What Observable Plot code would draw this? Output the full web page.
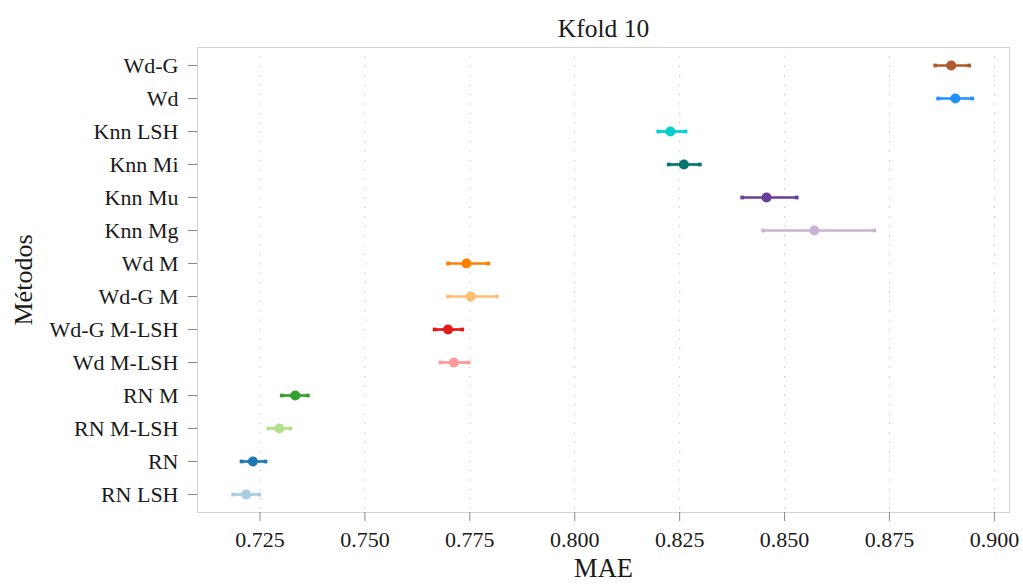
<!DOCTYPE html>
<html>
<head>
<meta charset="utf-8">
<script src="https://cdn.jsdelivr.net/npm/d3@7"></script>
<script src="https://cdn.jsdelivr.net/npm/@observablehq/plot@0.6"></script>
<style>
  body { margin: 0; background: #fff; }
  svg { display: block; }
</style>
</head>
<body>
<div id="chart"></div>
<script>
// Methods, top to bottom
const methods = ["Wd-G", "Wd", "Knn LSH", "Knn Mi", "Knn Mu", "Knn Mg", "Wd M", "Wd-G M",
                 "Wd-G M-LSH", "Wd M-LSH", "RN M", "RN M-LSH", "RN", "RN LSH"];
// Mean MAE over the 10 folds and its interval
const mae     = [0.8897, 0.8907, 0.8228, 0.8260, 0.8457, 0.8571, 0.7742, 0.7752, 0.7698, 0.7712, 0.7334, 0.7296, 0.7233, 0.7217];
const maeLow  = [0.8859, 0.8866, 0.8199, 0.8224, 0.8399, 0.8449, 0.7698, 0.7698, 0.7666, 0.7680, 0.7302, 0.7270, 0.7206, 0.7186];
const maeHigh = [0.8940, 0.8947, 0.8264, 0.8298, 0.8529, 0.8714, 0.7794, 0.7814, 0.7732, 0.7747, 0.7364, 0.7322, 0.7263, 0.7248];
const colors  = ["#b15928", "#1e90ff", "#00ced1", "#00766c", "#6a3d9a", "#cab2d6", "#ff7f00", "#fdbf6f",
                 "#e31a1c", "#fb9a99", "#33a02c", "#b2df8a", "#1f78b4", "#a6cee3"];
const xTicks  = [0.725, 0.750, 0.775, 0.800, 0.825, 0.850, 0.875, 0.900];

const rows = methods.map((m, i) => ({method: m, mae: mae[i], low: maeLow[i], high: maeHigh[i], color: colors[i]}));
const caps = rows.flatMap(d => [
  {method: d.method, x: d.low, color: d.color},
  {method: d.method, x: d.high, color: d.color}
]);

const font = "'Liberation Serif', 'Times New Roman', serif";

const chart = Plot.plot({
  width: 1023,
  height: 586,
  marginLeft: 197,
  marginRight: 14,
  marginTop: 47,
  marginBottom: 74,
  style: {fontFamily: font, color: "#1a1a1a", background: "#fff"},
  x: {domain: [0.7101, 0.9036]},
  y: {type: "point", domain: methods, padding: 0.5},
  color: {type: "identity"},
  marks: [
    Plot.gridX(xTicks, {stroke: "#b8b8b8", strokeOpacity: 1, strokeDasharray: "1.2,8.2"}),
    Plot.frame({stroke: "#d4d4d4"}),
    Plot.axisX(xTicks, {tickSize: 9, tickPadding: 10, tickFormat: d3.format(".3f"), fontSize: 22,
                        stroke: "#8a8a8a", fill: "#1a1a1a", label: null}),
    Plot.axisY({tickSize: 9, tickPadding: 10, fontSize: 22, stroke: "#8a8a8a", fill: "#1a1a1a", label: null}),
    Plot.ruleY(rows, {y: "method", x1: "low", x2: "high", stroke: "color", strokeWidth: 2.7}),
    Plot.dot(caps, {y: "method", x: "x", symbol: "square", r: 2.1, fill: "color"}),
    Plot.dot(rows, {y: "method", x: "mae", r: 5, fill: "color"}),
    Plot.text(["Kfold 10"], {frameAnchor: "top", dy: -28.5, fontSize: 25.5, fill: "#1a1a1a"}),
    Plot.text(["MAE"], {frameAnchor: "bottom", dy: 64, fontSize: 26.5, fill: "#1a1a1a"}),
    Plot.text(["Métodos"], {frameAnchor: "left", textAnchor: "middle", dx: -174, rotate: -90, fontSize: 26, fill: "#1a1a1a"})
  ]
});

document.getElementById("chart").append(chart);
</script>
</body>
</html>
